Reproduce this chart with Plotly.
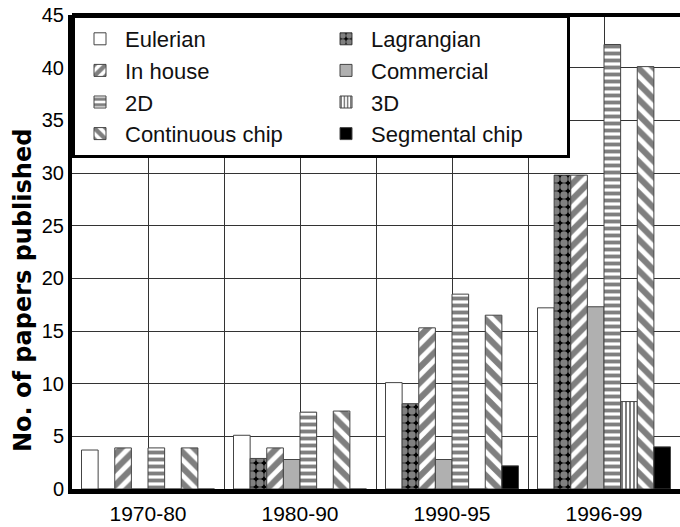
import plotly.graph_objects as go

categories = ["1970-80", "1980-90", "1990-95", "1996-99"]
series_names = ["Eulerian", "Lagrangian", "In house", "Commercial",
                "2D", "3D", "Continuous chip", "Segmental chip"]
eulerian = [3.7, 5.1, 10.1, 17.2]
lagrangian = [0, 2.9, 8.1, 29.8]
in_house = [3.9, 3.9, 15.3, 29.8]
commercial = [0, 2.8, 2.8, 17.3]
two_d = [3.9, 7.3, 18.5, 42.2]
three_d = [0, 0, 0, 8.3]
continuous = [3.9, 7.4, 16.5, 40.1]
segmental = [0, 0, 2.2, 4.0]
y_ticks = [0, 5, 10, 15, 20, 25, 30, 35, 40, 45]

series_values = [eulerian, lagrangian, in_house, commercial,
                 two_d, three_d, continuous, segmental]

styles = [
    dict(color="white", pattern=dict(shape="")),
    dict(color="black", pattern=dict(shape=".", fgcolor="white", bgcolor="black", size=8, solidity=0.68)),
    dict(color="white", pattern=dict(shape="/", fgcolor="black", bgcolor="white", size=11, solidity=0.55)),
    dict(color="#b0b0b0", pattern=dict(shape="")),
    dict(color="white", pattern=dict(shape="-", fgcolor="black", bgcolor="white", size=7, solidity=0.55)),
    dict(color="white", pattern=dict(shape="|", fgcolor="black", bgcolor="white", size=4, solidity=0.5)),
    dict(color="white", pattern=dict(shape="\\", fgcolor="black", bgcolor="white", size=11, solidity=0.55)),
    dict(color="black", pattern=dict(shape="")),
]

xpos = list(range(len(categories)))

fig = go.Figure()
for name, vals, st in zip(series_names, series_values, styles):
    fig.add_trace(go.Bar(
        x=xpos, y=vals, name=name,
        marker=dict(color=st["color"], pattern=st["pattern"],
                    line=dict(color="#444444", width=1)),
    ))

font_family = "Liberation Sans, Arial, sans-serif"

fig.update_layout(
    width=680, height=527,
    margin=dict(l=72, r=0, t=15, b=38),
    paper_bgcolor="white", plot_bgcolor="white",
    barmode="group", bargap=0.125, bargroupgap=0,
    font=dict(family=font_family, color="black"),
    showlegend=True,
    legend=dict(
        orientation="h", x=0, y=1, xanchor="left", yanchor="top",
        itemwidth=40,
        entrywidth=191, entrywidthmode="pixels",
        bgcolor="white", bordercolor="black", borderwidth=3,
        font=dict(size=22, color="#111111", family=font_family),
        traceorder="normal",
    ),
    xaxis=dict(
        range=[-0.5, 3.5], tickmode="array", tickvals=xpos, ticktext=categories,
        showgrid=True, gridcolor="#333333", gridwidth=1,
        minor=dict(tickmode="linear", tick0=-0.5, dtick=0.5, showgrid=True,
                   gridcolor="#333333", gridwidth=1),
        showline=True, linecolor="black", linewidth=5,
        ticks="", tickfont=dict(size=21, color="black"),
        ticklabelstandoff=2, zeroline=False, fixedrange=True,
    ),
    yaxis=dict(
        range=[0, 45], tickmode="array", tickvals=y_ticks,
        showgrid=True, gridcolor="#333333", gridwidth=1,
        showline=True, linecolor="black", linewidth=4,
        ticks="", tickfont=dict(size=20, color="black"),
        ticklabelstandoff=0, zeroline=False,
    ),
    shapes=[dict(type="line", xref="paper", yref="paper", x0=0, x1=1, y0=1, y1=1,
                 line=dict(color="black", width=4), layer="above")],
    annotations=[dict(text="<b>No. of papers published</b>", textangle=-90,
                      xref="paper", yref="paper", x=(23 - 72) / 608, y=(489 - 291) / 474,
                      xanchor="center", yanchor="middle", showarrow=False,
                      font=dict(size=24, family="DejaVu Sans, Arial, sans-serif", color="black"))],
)

fig.write_html("out.html", config={"displayModeBar": False},
               post_script="document.body.style.margin='0px';")
